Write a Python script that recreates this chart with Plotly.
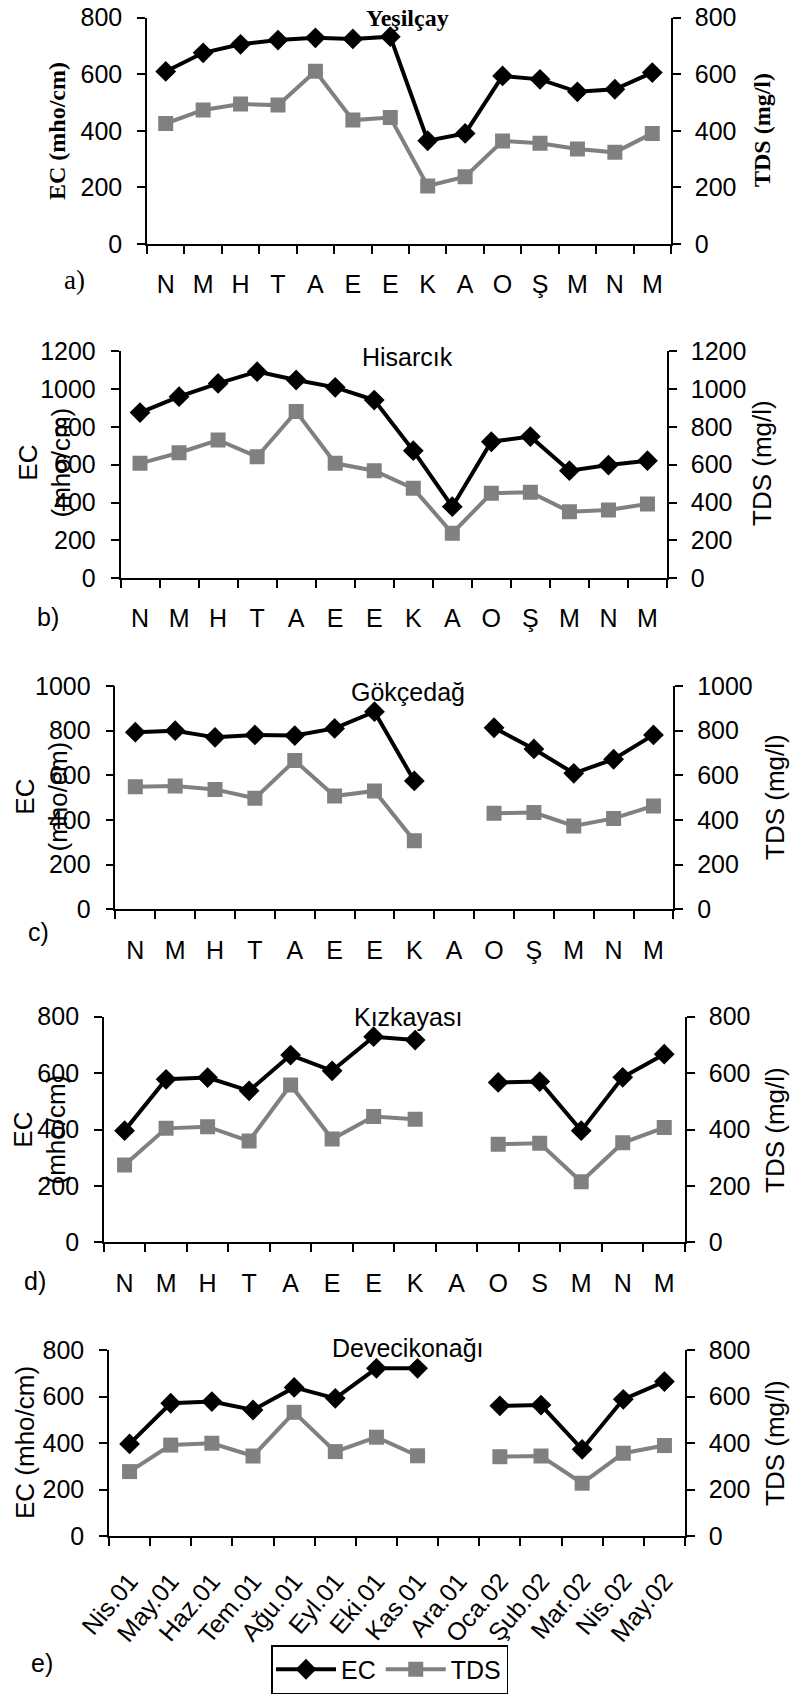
import plotly.graph_objects as go

W, H = 792, 1695

# ---------------- data ----------------
labels_a = ["N", "M", "H", "T", "A", "E", "E", "K", "A", "O", "Ş", "M", "N", "M"]
labels_d = ["N", "M", "H", "T", "A", "E", "E", "K", "A", "O", "S", "M", "N", "M"]
labels_e = ["Nis.01", "May.01", "Haz.01", "Tem.01", "Ağu.01", "Eyl.01", "Eki.01",
            "Kas.01", "Ara.01", "Oca.02", "Şub.02", "Mar.02", "Nis.02", "May.02"]

titles = ["Yeşilçay", "Hisarcık", "Gökçedağ", "Kızkayası", "Devecikonağı"]
tags = ["a)", "b)", "c)", "d)", "e)"]
y_max = [800, 1200, 1000, 800, 800]

ec_a = [610, 676, 706, 721, 729, 725, 733, 365, 391, 594, 582, 538, 547, 606]
tds_a = [426, 474, 495, 491, 611, 438, 447, 205, 238, 364, 356, 336, 324, 391]

ec_b = [875, 959, 1029, 1091, 1047, 1008, 941, 674, 378, 721, 748, 568, 598, 621]
tds_b = [607, 663, 730, 642, 880, 607, 568, 475, 238, 449, 454, 352, 361, 392]

ec_c = [793, 800, 770, 781, 778, 810, 885, 575, None, 813, 718, 609, 672, 781]
tds_c = [549, 552, 537, 497, 666, 507, 530, 307, None, 430, 433, 373, 407, 463]

ec_d = [396, 578, 584, 537, 664, 608, 729, 717, None, 567, 570, 396, 585, 667]
tds_d = [274, 404, 410, 359, 558, 366, 446, 436, None, 348, 351, 215, 353, 407]

ec_e = [396, 571, 578, 542, 639, 592, 721, 721, None, 560, 563, 373, 588, 664]
tds_e = [277, 391, 399, 344, 532, 363, 425, 345, None, 341, 344, 227, 356, 389]

ec_all = [ec_a, ec_b, ec_c, ec_d, ec_e]
tds_all = [tds_a, tds_b, tds_c, tds_d, tds_e]
xlabels_all = [labels_a, labels_a, labels_a, labels_d, labels_e]

# ---------------- geometry (pixels) ----------------
boxes = [  # x0, x1, y0(top), y1(bottom)
    (147, 671, 17.7, 244),
    (120.5, 667, 351, 578.3),
    (115.4, 673.4, 686, 909.3),
    (103.8, 685, 1016.7, 1242.3),
    (109, 685, 1350, 1536),
]
x_standoff = [17, 17, 18, 18, 19]
ec_title_pos = [(57, 131), (44.5, 463), (41.5, 797), (39.5, 1130), (25, 1443)]
tds_title_pos = [(762, 130), (762, 463), (775, 797), (775, 1130), (775, 1443)]
title_y = [18, 357, 692, 1017, 1348]
tag_pos = [(74, 280), (48, 617), (38, 932), (35, 1281), (42, 1663)]

SANS = "Liberation Sans, Arial, sans-serif"
SERIF = "Liberation Serif, Times New Roman, serif"
GRAY = "#808080"


def px(x):
    return x / W


def py(y):
    return 1 - y / H


fig = go.Figure()
layout = {}
ann = []
idx = list(range(14))

for i in range(5):
    n = i + 1
    x0, x1, y0, y1 = boxes[i]
    xa = "x" if n == 1 else f"x{n}"
    xkey = "xaxis" if n == 1 else f"xaxis{n}"
    k1, k2, k3 = 3 * n - 2, 3 * n - 1, 3 * n
    yn = lambda k: "y" if k == 1 else f"y{k}"
    yk = lambda k: "yaxis" if k == 1 else f"yaxis{k}"

    fig.add_trace(go.Scatter(
        x=idx, y=ec_all[i], xaxis=xa, yaxis=yn(k1), mode="lines+markers",
        name="EC", legendgroup="EC", showlegend=(n == 5),
        line=dict(color="black", width=4),
        marker=dict(symbol="diamond", size=16, color="black")))
    fig.add_trace(go.Scatter(
        x=idx, y=tds_all[i], xaxis=xa, yaxis=yn(k2), mode="lines+markers",
        name="TDS", legendgroup="TDS", showlegend=(n == 5),
        line=dict(color=GRAY, width=4),
        marker=dict(symbol="square", size=15, color=GRAY)))

    rotated = (n == 5)
    layout[xkey] = dict(
        domain=[px(x0), px(x1)], anchor=yn(k1), range=[-0.5, 13.5],
        automargin=False,
        showline=True, linecolor="black", linewidth=1.5,
        showgrid=False, zeroline=False,
        tickmode="array", tickvals=idx, ticktext=xlabels_all[i], ticks="",
        tickangle=-50 if rotated else 0,
        ticklabelstandoff=x_standoff[i],
        tickfont=dict(family=SANS, size=25, color="black"),
        minor=dict(tickmode="array", tickvals=[k - 0.5 for k in range(15)],
                   ticks="outside", ticklen=8, tickcolor="black", tickwidth=1.5,
                   showgrid=False))
    common = dict(range=[0, y_max[i]], tickmode="linear", tick0=0, dtick=200,
                  automargin=False,
                  showgrid=False, zeroline=False, linecolor="black", linewidth=1.5,
                  tickcolor="black", tickwidth=1.5, ticklen=8,
                  tickfont=dict(family=SANS, size=25, color="black"))
    layout[yk(k1)] = dict(domain=[py(y1), py(y0)], anchor=xa, showline=True,
                          ticks="outside", ticklabelstandoff=10, **common)
    layout[yk(k2)] = dict(overlaying=yn(k1), side="right", anchor=xa, showline=True,
                          ticks="outside", ticklabelstandoff=9, **common)
    layout[yk(k3)] = dict(overlaying=yn(k1), side="right", anchor=xa, showline=False,
                          ticks="inside", showticklabels=False, **common)

    serif = (n == 1)
    tfont = dict(family=SERIF if serif else SANS, size=24 if serif else 26,
                 color="black")
    ec_text = "<b>EC (mho/cm)</b>" if serif else ("EC (mho/cm)" if n == 5 else "EC<br>(mho/cm)")
    tds_text = "<b>TDS (mg/l)</b>" if serif else "TDS (mg/l)"
    ann.append(dict(text=ec_text, x=px(ec_title_pos[i][0]), y=py(ec_title_pos[i][1]),
                    xref="paper", yref="paper", textangle=-90, showarrow=False,
                    xanchor="center", yanchor="middle", font=tfont))
    ann.append(dict(text=tds_text, x=px(tds_title_pos[i][0]), y=py(tds_title_pos[i][1]),
                    xref="paper", yref="paper", textangle=-90, showarrow=False,
                    xanchor="center", yanchor="middle", font=tfont))
    ann.append(dict(text=("<b>%s</b>" % titles[i]) if serif else titles[i],
                    x=px(407.6), y=py(title_y[i]), xref="paper", yref="paper",
                    showarrow=False, xanchor="center", yanchor="middle",
                    font=dict(family=SERIF if serif else SANS,
                              size=24 if serif else 25, color="black")))
    ann.append(dict(text=tags[i], x=px(tag_pos[i][0]), y=py(tag_pos[i][1]),
                    xref="paper", yref="paper", showarrow=False,
                    xanchor="center", yanchor="middle",
                    font=dict(family=SERIF if serif else SANS,
                              size=27 if serif else 25, color="black")))

fig.update_layout(
    width=W, height=H, margin=dict(l=0, r=0, t=0, b=0, autoexpand=False),
    paper_bgcolor="white", plot_bgcolor="rgba(0,0,0,0)",
    annotations=ann,
    legend=dict(orientation="h", x=px(271), y=py(1694), xanchor="left", yanchor="bottom",
                bordercolor="black", borderwidth=1.5, bgcolor="white",
                font=dict(family=SANS, size=25, color="black"),
                itemwidth=60, tracegroupgap=0),
    **layout)

fig.write_html(
    "out.html",
    config={"displayModeBar": False},
    post_script="document.body.style.margin='0';document.body.style.padding='0';"
                "document.documentElement.style.margin='0';")
